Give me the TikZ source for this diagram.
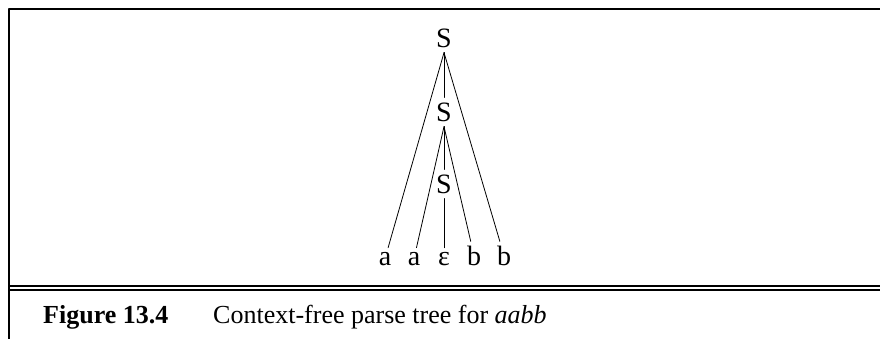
\documentclass[tikz,border=0pt]{standalone}
\usepackage{fontspec}
\setmainfont{Liberation Serif}
\usepackage{tikz}
\tikzset{
    sym/.style={
        font=\fontsize{28}{34}\selectfont, inner sep=5pt
    },
    leaf/.style={
        font=\fontsize{28}{34}\selectfont, inner sep=4pt, anchor=base
    },
    branch/.style={line width=0.8pt},
    framerule/.style={line width=2pt},
    captext/.style={font=\fontsize{26}{31}\selectfont, anchor=base west, inner sep=0pt}
}

\begin{document}
\begin{tikzpicture}[x=1pt,y=-1pt,line cap=round,line join=round]
\useasboundingbox (0,0) rectangle (880,339);

% frame of the figure
\draw[framerule, line cap=butt] (9,339) -- (9,9) -- (880,9);
\draw[line width=1.8pt, line cap=butt] (9,286) -- (880,286);
\draw[line width=1.8pt, line cap=butt] (9,290) -- (880,290);

% inner nodes
\node[sym] (s1) at (444,38) {S};
\node[sym] (s2) at (444,112) {S};
\node[sym] (s3) at (444,184) {S};

% leaves
\node[leaf] (a1) at (385,265) {a};
\node[leaf] (a2) at (414,265) {a};
\node[leaf] (eps) at (444,265) {ε};
\node[leaf] (b1) at (474,265) {b};
\node[leaf] (b2) at (504,265) {b};

% branches
\draw[branch] (s1) -- (s2);
\draw[branch] (s2) -- (s3);
\draw[branch] (s3) -- (eps);
\foreach \leafname in {a1,b2}
  \draw[branch] (s1.south) -- (\leafname);
\foreach \leafname in {a2,b1}
  \draw[branch] (s2.south) -- (\leafname);

% caption
\node[captext] (fignum) at (43,323) {\bfseries Figure 13.4};
\node[captext] (figtext) at (213,323) {Context-free parse tree for \textit{aabb}};

\end{tikzpicture}
\end{document}
